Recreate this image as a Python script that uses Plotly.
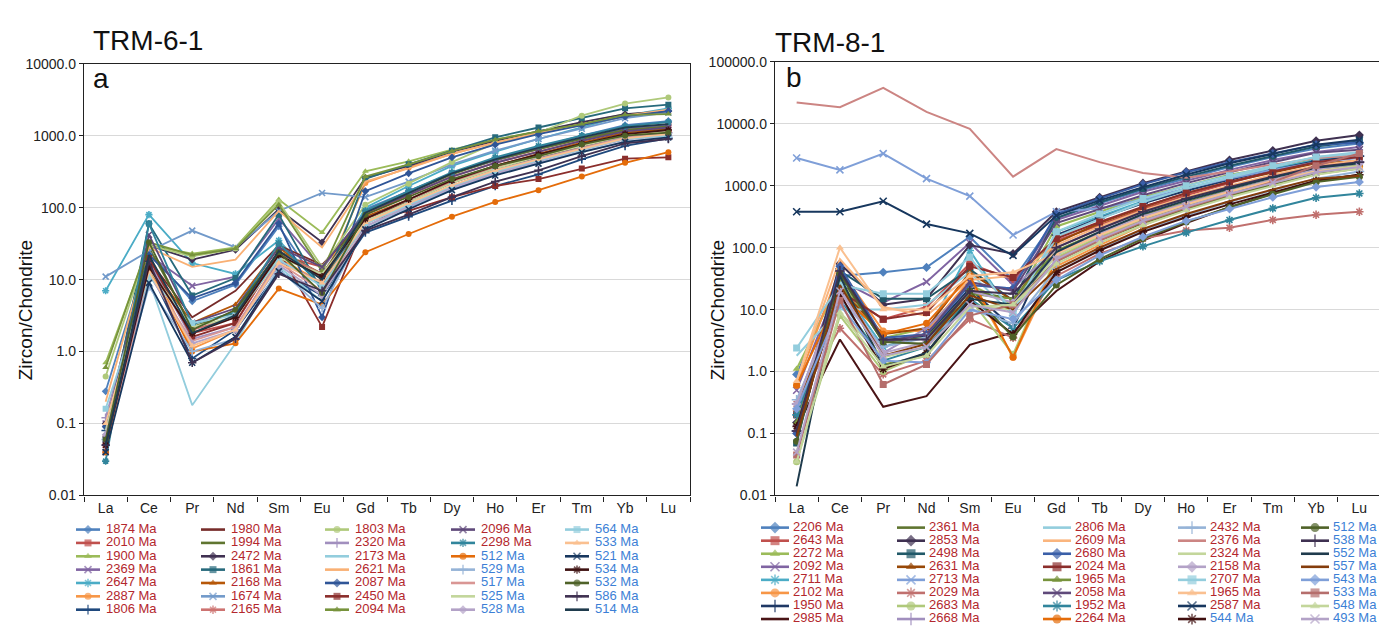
import plotly.graph_objects as go

W, H = 1387, 628
FONT = "Arial, 'Liberation Sans', Helvetica, sans-serif"

ELEMENTS = ["La", "Ce", "Pr", "Nd", "Sm", "Eu", "Gd", "Tb", "Dy", "Ho", "Er", "Tm", "Yb", "Lu"]

# ---------------- Panel a : TRM-6-1 (legend columns) ----------------
A_AGES = [
    ["1874", "2010", "1900", "2369", "2647", "2887", "1806"],
    ["1980", "1994", "2472", "1861", "2168", "1674", "2165"],
    ["1803", "2320", "2173", "2621", "2087", "2450", "2094"],
    ["2096", "2298", "512", "529", "517", "525", "528"],
    ["564", "533", "521", "534", "532", "586", "514"],
]
A_COL1 = [
    [0.28, 25, 5.0, 8.5, 55, 7, 95, 170, 300, 480, 700, 1000, 1400, 1600],
    [0.05, 20, 1.8, 2.5, 22, 15, 80, 150, 270, 420, 600, 850, 1200, 1400],
    [0.7, 30, 23, 28, 130, 45, 320, 440, 640, 880, 1150, 1500, 2000, 2100],
    [0.1, 22, 8.2, 11, 70, 14, 90, 170, 300, 450, 650, 900, 1250, 1400],
    [7, 80, 17, 12, 35, 8, 100, 200, 380, 600, 900, 1300, 1900, 2400],
    [0.04, 18, 1.1, 2.0, 20, 9, 220, 360, 560, 800, 1100, 1400, 1850, 2200],
    [0.08, 14, 0.8, 2.0, 13, 6, 45, 75, 125, 200, 290, 470, 720, 920],
]
A_COL2 = [
    [0.09, 19, 3.0, 7.0, 30, 16, 70, 120, 220, 350, 500, 700, 950, 1100],
    [0.06, 28, 2.2, 3.5, 25, 12, 85, 160, 290, 460, 650, 900, 1200, 1350],
    [0.1, 30, 19, 26, 95, 33, 260, 380, 600, 850, 1150, 1550, 2000, 2200],
    [0.06, 60, 6.0, 10.5, 80, 7, 250, 400, 620, 950, 1300, 1750, 2400, 2700],
    [0.07, 17, 2.5, 4.5, 28, 10, 75, 130, 240, 380, 560, 800, 1100, 1250],
    [11, 25, 48, 28, 90, 160, 140, 230, 400, 620, 900, 1250, 1750, 2100],
    [0.05, 16, 2.0, 3.0, 24, 12, 70, 130, 230, 360, 520, 740, 1000, 1150],
]
A_COL3 = [
    [0.45, 30, 21, 27, 120, 15, 110, 215, 430, 790, 1100, 1900, 2800, 3400],
    [0.12, 18, 1.5, 2.2, 18, 9, 60, 110, 200, 330, 480, 680, 950, 1100],
    [0.05, 10, 0.18, 1.3, 15, 5, 55, 100, 190, 310, 460, 650, 900, 1050],
    [0.2, 28, 15, 19, 90, 28, 230, 350, 560, 800, 1100, 1450, 1900, 2300],
    [0.09, 22, 5.5, 9, 60, 3, 170, 300, 500, 750, 1050, 1400, 1850, 2200],
    [0.04, 20, 1.6, 2.5, 25, 2.2, 65, 90, 140, 200, 250, 350, 480, 500],
    [0.6, 33, 22, 27, 110, 13, 270, 400, 610, 880, 1150, 1450, 1950, 2000],
]
A_COL4 = [
    [0.06, 42, 2.5, 4.0, 28, 15, 85, 150, 270, 420, 600, 850, 1150, 1300],
    [0.03, 60, 2.4, 3.5, 32, 8, 90, 170, 310, 500, 720, 1000, 1350, 1550],
    [0.04, 15, 1.0, 1.3, 7.5, 4.5, 24, 43, 75, 120, 175, 270, 420, 590],
    [0.06, 8, 1.0, 1.5, 14, 4, 55, 100, 180, 290, 420, 600, 820, 950],
    [0.05, 12, 1.4, 2.2, 17, 7, 60, 110, 200, 320, 470, 670, 930, 1050],
    [0.08, 14, 2.2, 3.0, 20, 12, 65, 120, 220, 350, 510, 720, 1000, 1150],
    [0.07, 12, 1.3, 2.0, 16, 6, 55, 105, 190, 300, 440, 640, 880, 1000],
]
A_COL5 = [
    [0.16, 11, 2.5, 3.2, 19, 8, 60, 110, 200, 320, 450, 640, 900, 1000],
    [0.1, 13, 1.2, 2.0, 17, 9, 62, 115, 205, 330, 470, 660, 920, 1050],
    [0.04, 9, 0.7, 1.6, 13, 5, 50, 95, 175, 280, 410, 590, 820, 950],
    [0.05, 15, 1.8, 3.0, 22, 11, 70, 130, 240, 380, 550, 770, 1050, 1200],
    [0.06, 33, 2.0, 3.8, 24, 6.5, 80, 140, 250, 380, 520, 760, 1000, 1100],
    [0.05, 18, 0.7, 1.5, 12, 7, 48, 80, 140, 230, 330, 520, 780, 900],
    [0.05, 22, 1.8, 3.2, 25, 10, 85, 160, 300, 470, 680, 950, 1300, 1450],
]

# ---------------- Panel b : TRM-8-1 (legend columns) ----------------
B_AGES = [
    ["2206", "2643", "2272", "2092", "2711", "2102", "1950", "2985"],
    ["2361", "2853", "2498", "2631", "2713", "2029", "2683", "2668"],
    ["2806", "2609", "2680", "2024", "1965", "2058", "1952", "2264"],
    ["2432", "2376", "2324", "2158", "2707", "1965", "2587", "544"],
    ["512", "538", "552", "557", "543", "533", "548", "493"],
]
B_COL1 = [
    [0.9, 35, 40, 48, 150, 30, 300, 520, 850, 1300, 2000, 2900, 4000, 4800],
    [0.2, 20, 7, 11, 55, 30, 130, 230, 420, 700, 1100, 1700, 2500, 3400],
    [1.1, 28, 3.5, 5, 25, 12, 220, 380, 650, 1000, 1500, 2000, 2600, 3000],
    [0.5, 30, 13, 28, 120, 25, 280, 480, 800, 1200, 1800, 2600, 3500, 4200],
    [0.2, 25, 2.5, 4, 90, 8, 180, 320, 560, 900, 1350, 1900, 2600, 3000],
    [0.6, 45, 4.5, 4.5, 30, 1.7, 50, 110, 230, 420, 700, 1100, 1700, 2400],
    [0.11, 45, 3.2, 3.8, 22, 5, 160, 300, 520, 830, 1250, 1800, 2500, 3000],
    [0.12, 3.3, 0.27, 0.4, 2.7, 4.3, 20, 60, 130, 250, 450, 750, 1200, 1500],
]
B_COL2 = [
    [0.08, 35, 3, 3.5, 20, 15, 60, 130, 250, 420, 680, 1050, 1550, 1900],
    [0.15, 55, 12, 15, 110, 80, 380, 650, 1100, 1700, 2600, 3700, 5300, 6600],
    [0.07, 42, 15, 15, 45, 14, 300, 540, 900, 1400, 2100, 3000, 4300, 5200],
    [0.25, 22, 4, 5, 40, 14, 120, 250, 450, 760, 1150, 1650, 2300, 2500],
    [2800, 1800, 3300, 1300, 680, 160, 380, 430, 600, 900, 1300, 1800, 2400, 2800],
    [0.3, 5, 0.9, 1.5, 7, 3.5, 35, 80, 140, 190, 210, 280, 340, 380],
    [0.035, 8, 1, 2, 15, 1.9, 70, 150, 290, 480, 760, 1150, 1700, 2100],
    [0.3, 25, 2, 5, 25, 22, 100, 200, 380, 620, 950, 1400, 2000, 2400],
]
B_COL3 = [
    [1.8, 10, 10, 12, 40, 8, 150, 290, 540, 900, 1350, 2000, 2900, 3500],
    [0.7, 65, 11, 8, 30, 35, 110, 220, 400, 650, 1000, 1500, 2100, 2600],
    [0.1, 50, 3.5, 4, 25, 22, 350, 620, 1050, 1650, 2400, 3300, 4600, 5000],
    [0.2, 20, 7, 9, 50, 33, 140, 260, 460, 760, 1150, 1700, 2400, 2900],
    [0.15, 30, 1.3, 1.8, 18, 15, 90, 180, 330, 540, 850, 1250, 1800, 2200],
    [0.12, 38, 3, 4, 28, 20, 250, 420, 700, 1100, 1650, 2400, 3400, 3800],
    [0.2, 15, 1.5, 2.5, 15, 5, 30, 60, 105, 175, 280, 430, 640, 750],
    [0.6, 18, 4, 6, 35, 1.7, 65, 140, 270, 460, 740, 1150, 1700, 2000],
]
B_COL4 = [
    [0.35, 15, 2.5, 3.5, 10, 6, 45, 95, 190, 330, 550, 850, 1300, 1700],
    [22000, 18500, 38000, 15500, 8300, 1400, 3900, 2400, 1600, 1350, 1700, 2200, 2800, 3100],
    [0.05, 9, 1.7, 2.5, 12, 10, 75, 160, 300, 500, 780, 1200, 1750, 2100],
    [0.3, 22, 2, 3, 20, 13, 80, 170, 320, 520, 820, 1250, 1850, 2300],
    [2.4, 25, 18, 18, 70, 9, 180, 350, 620, 1000, 1450, 2100, 2900, 3300],
    [0.7, 100, 10, 10, 35, 40, 80, 160, 300, 500, 800, 1200, 1700, 2000],
    [380, 380, 560, 240, 170, 75, 330, 580, 950, 1500, 2300, 3300, 4600, 5500],
    [0.13, 18, 1.1, 2, 14, 4, 40, 90, 180, 310, 500, 780, 1200, 1500],
]
B_COL5 = [
    [0.075, 38, 3, 2.8, 20, 3.6, 25, 65, 140, 260, 450, 730, 1150, 1400],
    [0.11, 42, 3.3, 3.3, 20, 18, 100, 200, 380, 620, 950, 1400, 2000, 2400],
    [0.014, 35, 1.2, 2, 15, 12, 85, 180, 350, 580, 900, 1350, 1950, 2300],
    [0.09, 25, 1.8, 2.8, 17, 10, 45, 100, 200, 350, 560, 870, 1300, 1450],
    [0.25, 12, 1.5, 1.4, 10, 7, 30, 75, 150, 270, 420, 650, 950, 1150],
    [0.045, 14, 0.62, 1.3, 8, 12, 60, 130, 260, 440, 720, 1150, 2100, 3300],
    [0.035, 9, 1.2, 1.8, 11, 12, 55, 120, 230, 400, 650, 1000, 1500, 1900],
    [0.05, 20, 1.8, 2.5, 12, 9, 65, 140, 270, 460, 740, 1120, 1650, 2000],
]

# ---------------- styles (colour, marker) ----------------
A_STYLE = [
    [("#4F81BD", "diamond"), ("#C0504D", "square"), ("#9BBB59", "triangle-up"), ("#8064A2", "x-thin-open"),
     ("#4BACC6", "asterisk-open"), ("#F79646", "circle"), ("#1F497D", "cross-thin-open")],
    [("#772C2A", None), ("#5F7530", None), ("#403152", "diamond"), ("#276A7C", "square"),
     ("#B65708", "triangle-up"), ("#729ACA", "x-thin-open"), ("#CD7371", "asterisk-open")],
    [("#AFC97A", "circle"), ("#A18FBE", "cross-thin-open"), ("#93CDDD", None), ("#F9B074", None),
     ("#2F5597", "diamond"), ("#8B2E2C", "square"), ("#77933C", "triangle-up")],
    [("#5F497A", "x-thin-open"), ("#31859C", "asterisk-open"), ("#E46C0A", "circle"), ("#95B3D7", "cross-thin-open"),
     ("#D99694", None), ("#C3D69B", None), ("#B3A2C7", "diamond")],
    [("#93CDDD", "square"), ("#FAC090", "triangle-up"), ("#17375E", "x-thin-open"), ("#3F1212", "asterisk-open"),
     ("#4F6228", "circle"), ("#3F3151", "cross-thin-open"), ("#1F3B4D", None)],
]
B_STYLE = [
    [("#4F81BD", "diamond"), ("#C0504D", "square"), ("#9BBB59", "triangle-up"), ("#8064A2", "x-thin-open"),
     ("#4BACC6", "asterisk-open"), ("#F79646", "circle"), ("#1F3864", "cross-thin-open"), ("#4A1416", None)],
    [("#5F7530", None), ("#3F3151", "diamond"), ("#215968", "square"), ("#984807", "triangle-up"),
     ("#7F9FD8", "x-thin-open"), ("#C0706E", "asterisk-open"), ("#AFC97A", "circle"), ("#A18FBE", "cross-thin-open")],
    [("#93CDDD", None), ("#FAB57E", None), ("#3A5FA8", "diamond"), ("#8B2E2C", "square"),
     ("#77933C", "triangle-up"), ("#5F497A", "x-thin-open"), ("#31859C", "asterisk-open"), ("#E46C0A", "circle")],
    [("#95B3D7", "cross-thin-open"), ("#CC8583", None), ("#C3D69B", None), ("#B3A2C7", "diamond"),
     ("#93CDDD", "square"), ("#FAC090", "triangle-up"), ("#17375E", "x-thin-open"), ("#3F0F0F", "asterisk-open")],
    [("#4F6228", "circle"), ("#3F3151", "cross-thin-open"), ("#1F3B4D", None), ("#843C0C", None),
     ("#7F9FD8", "diamond"), ("#B56E6C", "square"), ("#C3D69B", "triangle-up"), ("#B3A2C7", "x-thin-open")],
]

RED_TXT = "#B3272D"
BLUE_TXT = "#3C7FD6"

fig = go.Figure()


def marker_dict(color, symbol, size):
    if symbol is None:
        return dict(size=0)
    if symbol.endswith("-open"):
        return dict(symbol=symbol, size=size, color=color, line=dict(color=color, width=1.6))
    return dict(symbol=symbol, size=size, color=color, line=dict(width=0))


def add_panel(cols, styles, xa, ya, msize, lw):
    for vals_col, sty_col in zip(cols, styles):
        for vals, (color, symbol) in zip(vals_col, sty_col):
            fig.add_trace(go.Scatter(
                x=ELEMENTS, y=vals, xaxis=xa, yaxis=ya,
                mode="lines" if symbol is None else "lines+markers",
                line=dict(color=color, width=lw),
                marker=marker_dict(color, symbol, msize),
                showlegend=False, hoverinfo="skip"))


add_panel([A_COL1, A_COL2, A_COL3, A_COL4, A_COL5], A_STYLE, "x", "y", 6, 1.8)
add_panel([B_COL1, B_COL2, B_COL3, B_COL4, B_COL5], B_STYLE, "x2", "y2", 7, 2.0)


# ---------------- hand-made legends (pixel-space overlay axis) ----------------
def add_legend(ages, styles, col_x, y0, dy, seg, gap, msize):
    for c, (age_col, sty_col) in enumerate(zip(ages, styles)):
        for r, (age, (color, symbol)) in enumerate(zip(age_col, sty_col)):
            yy = y0 + r * dy
            x0 = col_x[c]
            x1 = x0 + seg
            m = marker_dict(color, symbol, msize)
            if symbol is not None:
                m["size"] = [0, msize, 0]
            fig.add_trace(go.Scatter(
                x=[x0, (x0 + x1) / 2, x1], y=[yy, yy, yy], xaxis="x3", yaxis="y3",
                mode="lines" if symbol is None else "lines+markers",
                line=dict(color=color, width=2.6), marker=m,
                showlegend=False, hoverinfo="skip"))
            fig.add_trace(go.Scatter(
                x=[x1 + gap], y=[yy], xaxis="x3", yaxis="y3", mode="text",
                text=[f"{age} Ma"], textposition="middle right",
                textfont=dict(family=FONT, size=13, color=RED_TXT if int(age) >= 1000 else BLUE_TXT),
                showlegend=False, hoverinfo="skip"))


add_legend(A_AGES, A_STYLE, [68, 193, 317, 443, 557], 527, 13.7, 24, 6, 7)
add_legend(B_AGES, B_STYLE, [753, 889, 1035, 1170, 1293], 525, 13.4, 28, 4, 9)

# ---------------- axes ----------------
TICK_FONT = dict(family=FONT, size=14, color="#222222")


def xaxis_cfg(domain, anchor):
    return dict(domain=domain, anchor=anchor, type="category", categoryorder="array",
                categoryarray=ELEMENTS, range=[-0.5, 13.5], tickson="boundaries",
                ticks="outside", ticklen=5, tickcolor="#222222", tickwidth=1.2,
                showline=True, linecolor="#222222", linewidth=1.4, mirror=True,
                showgrid=False, tickfont=TICK_FONT, zeroline=False)


def yaxis_cfg(domain, anchor, top):
    vals = [10.0 ** e for e in range(-2, top + 1)]
    text = ["0.01", "0.1", "1.0", "10.0", "100.0", "1000.0", "10000.0", "100000.0"][:len(vals)]
    return dict(domain=domain, anchor=anchor, type="log", range=[-2, top],
                tickvals=vals, ticktext=text, ticks="outside", ticklen=4,
                tickcolor="#222222", tickwidth=1.2, showline=True, linecolor="#222222",
                linewidth=1.4, mirror=True, showgrid=True, gridcolor="#D9D9D9", gridwidth=1.3,
                tickfont=TICK_FONT, zeroline=False)


fig.update_layout(
    width=W, height=H, margin=dict(l=0, r=0, t=0, b=0),
    paper_bgcolor="white", plot_bgcolor="rgba(0,0,0,0)",
    font=dict(family=FONT, color="#222222"),
    xaxis=xaxis_cfg([76 / W, 682 / W], "y"),
    yaxis=yaxis_cfg([1 - 492 / H, 1 - 49 / H], "x", 4),
    xaxis2=xaxis_cfg([767 / W, 1373 / W], "y2"),
    yaxis2=yaxis_cfg([1 - 492 / H, 1 - 47 / H], "x2", 5),
    xaxis3=dict(domain=[0, 1], anchor="y3", range=[0, W], visible=False, fixedrange=True),
    yaxis3=dict(domain=[0, 1], anchor="x3", range=[H, 0], visible=False, fixedrange=True),
    showlegend=False,
)

ann = [
    dict(text="TRM-6-1", x=83 / W, y=1 - 25 / H, xanchor="left", yanchor="middle", font=dict(size=28)),
    dict(text="TRM-8-1", x=765 / W, y=1 - 27 / H, xanchor="left", yanchor="middle", font=dict(size=28)),
    dict(text="a", x=83 / W, y=1 - 64 / H, xanchor="left", yanchor="middle", font=dict(size=28)),
    dict(text="b", x=776 / W, y=1 - 63 / H, xanchor="left", yanchor="middle", font=dict(size=28)),
    dict(text="Zircon/Chondrite", x=17 / W, y=1 - 302 / H, textangle=-90, xanchor="center",
         yanchor="middle", font=dict(size=19)),
    dict(text="Zircon/Chondrite", x=709 / W, y=1 - 302 / H, textangle=-90, xanchor="center",
         yanchor="middle", font=dict(size=19)),
]
for a in ann:
    a.update(xref="paper", yref="paper", showarrow=False)
    a["font"].update(family=FONT, color="#111111")
fig.update_layout(annotations=ann)

fig.write_html("out.html")
